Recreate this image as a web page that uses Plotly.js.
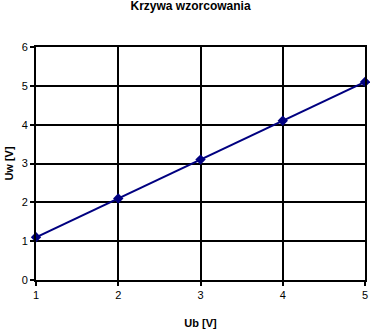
<!DOCTYPE html>
<html>
<head>
<meta charset="utf-8">
<script src="https://cdn.plot.ly/plotly-3.0.1.min.js"></script>
<style>html,body{margin:0;padding:0;background:#fff;}#chart{width:370px;height:332px;}</style>
</head>
<body>
<div id="chart"></div>
<script>
const ubValues = [1, 2, 3, 4, 5];
const uwValues = [1.1, 2.1, 3.1, 4.1, 5.1];
const xTicks = [1, 2, 3, 4, 5];
const yTicks = [0, 1, 2, 3, 4, 5, 6];

const trace = {
  x: ubValues,
  y: uwValues,
  type: 'scatter',
  mode: 'lines+markers',
  line: {color: '#000080', width: 2},
  marker: {color: '#000080', symbol: 'diamond', size: 8},
  cliponaxis: false,
  hoverinfo: 'none'
};

const axisCommon = {
  showgrid: true,
  gridcolor: '#000000',
  gridwidth: 2,
  zeroline: false,
  showline: true,
  linecolor: '#000000',
  linewidth: 2,
  mirror: true,
  ticks: 'outside',
  ticklen: 4,
  tickwidth: 2,
  tickcolor: '#000000',
  tickfont: {family: 'Liberation Sans, Arial, sans-serif', size: 11, color: '#000'}
};

const layout = {
  width: 370,
  height: 332,
  margin: {l: 36, r: 5, t: 47, b: 52},
  paper_bgcolor: '#ffffff',
  plot_bgcolor: '#ffffff',
  showlegend: false,
  title: {
    text: '<b>Krzywa wzorcowania</b>',
    font: {family: 'Liberation Sans, Arial, sans-serif', size: 12, color: '#000'},
    x: 0.515, xanchor: 'center', y: 1, yanchor: 'top', pad: {t: 2}
  },
  xaxis: Object.assign({}, axisCommon, {
    range: [1, 5],
    tickvals: xTicks,
    ticktext: xTicks.map(String),
    title: {text: '<b>Ub [V]</b>', font: {family: 'Liberation Sans, Arial, sans-serif', size: 11, color: '#000'}, standoff: 19}
  }),
  yaxis: Object.assign({}, axisCommon, {
    range: [0, 6],
    tickvals: yTicks,
    ticktext: yTicks.map(String),
    title: {text: '<b>Uw [V]</b>', font: {family: 'Liberation Sans, Arial, sans-serif', size: 11, color: '#000'}, standoff: 6}
  })
};

Plotly.newPlot('chart', [trace], layout, {staticPlot: true, displayModeBar: false});
</script>
</body>
</html>
